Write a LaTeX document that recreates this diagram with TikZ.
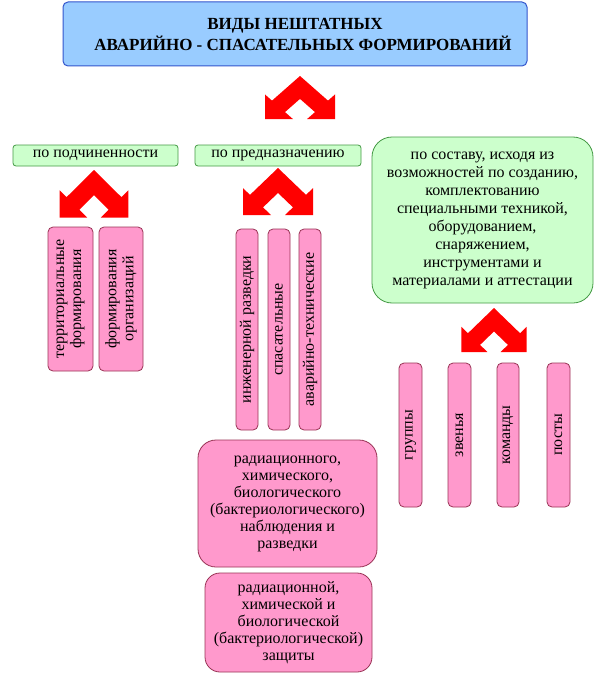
\documentclass[tikz,border=0pt]{standalone}
\usepackage{fontspec}
\setmainfont{Liberation Serif}
\definecolor{titlefill}{HTML}{99CCFF}
\definecolor{titledraw}{HTML}{3355CC}
\definecolor{greenfill}{HTML}{CCFFCC}
\definecolor{greendraw}{HTML}{449944}
\definecolor{pinkfill}{HTML}{FF99CC}
\definecolor{pinkdraw}{HTML}{993355}
\definecolor{arrowred}{HTML}{FF0000}
\begin{document}
\begin{tikzpicture}[x=1pt,y=-1pt,
  titlebox/.style={draw=titledraw, fill=titlefill, line width=1pt, rounded corners=5pt,
    inner sep=0pt, align=center, font=\bfseries\fontsize{17}{21}\selectfont},
  greenbox/.style={draw=greendraw, fill=greenfill, line width=0.8pt, rounded corners=3pt,
    inner sep=0pt, align=center, font=\fontsize{16}{18}\selectfont},
  pinkbox/.style={draw=pinkdraw, fill=pinkfill, line width=0.8pt, rounded corners=5pt,
    inner sep=0pt, align=center, font=\fontsize{16}{17}\selectfont},
  vbox/.style={pinkbox, rotate=90},
  dblarrow/.pic={\fill[arrowred] (0,0) -- (28,28) -- (35,21) -- (35,49) -- (7,49) -- (15,41)
     -- (0,26) -- (-15,41) -- (-7,49) -- (-35,49) -- (-35,21) -- (-28,28) -- cycle;}
]
\useasboundingbox (0,0) rectangle (600,677);
\fill[white] (0,0) rectangle (600,677);

\node[titlebox, minimum width=464pt, minimum height=64pt] (title) at (295,34)
  {ВИДЫ НЕШТАТНЫХ\\ \hspace*{16pt}АВАРИЙНО - СПАСАТЕЛЬНЫХ ФОРМИРОВАНИЙ};

\pic[yscale=0.88] at (300,76) {dblarrow};

\node[greenbox, minimum width=165pt, minimum height=21pt] (sub) at (95.5,155.5) {по подчиненности};
\node[greenbox, minimum width=166pt, minimum height=21pt] (purp) at (278,155.5) {по предназначению};
\node[greenbox, rounded corners=20pt, minimum width=221pt, minimum height=166pt] (comp) at (482.5,220)
  {по составу, исходя из\\ возможностей по созданию,\\ комплектованию\\ специальными техникой,\\
   оборудованием,\\ снаряжением,\\ инструментами и\\ материалами и аттестации};

\pic[xscale=0.98, yscale=0.97] at (94,170) {dblarrow};
\pic[yscale=0.96] at (278,168) {dblarrow};
\pic[xscale=0.93, yscale=0.9] at (494,308) {dblarrow};

\node[vbox, minimum width=144pt, minimum height=45pt] (terr) at (70.5,299) {территориальные\\ формирования};
\node[vbox, minimum width=144pt, minimum height=44pt] (org) at (121,299) {формирования\\ организаций};

\node[vbox, minimum width=201pt, minimum height=22pt] (eng) at (247,329.5) {инженерной разведки};
\node[vbox, minimum width=201pt, minimum height=22pt] (resc) at (279,329.5) {спасательные};
\node[vbox, minimum width=201pt, minimum height=22pt] (tech) at (310,329.5) {аварийно-технические};

\node[pinkbox, rounded corners=18pt, minimum width=179pt, minimum height=127pt] (rad1) at (287.5,503.5)
  {радиационного,\\ химического,\\ биологического\\ (бактериологического)\\ наблюдения и\\ разведки};
\node[pinkbox, rounded corners=15pt, minimum width=167pt, minimum height=99pt] (rad2) at (288.5,622.5)
  {радиационной,\\ химической и\\ биологической\\ (бактериологической)\\ защиты};

\node[vbox, minimum width=144pt, minimum height=23pt] (grp) at (410.5,435) {группы};
\node[vbox, minimum width=144pt, minimum height=23pt] (zv) at (459.5,435) {звенья};
\node[vbox, minimum width=144pt, minimum height=22pt] (kom) at (508,435) {команды};
\node[vbox, minimum width=144pt, minimum height=23pt] (post) at (558.5,435) {посты};
\end{tikzpicture}
\end{document}
